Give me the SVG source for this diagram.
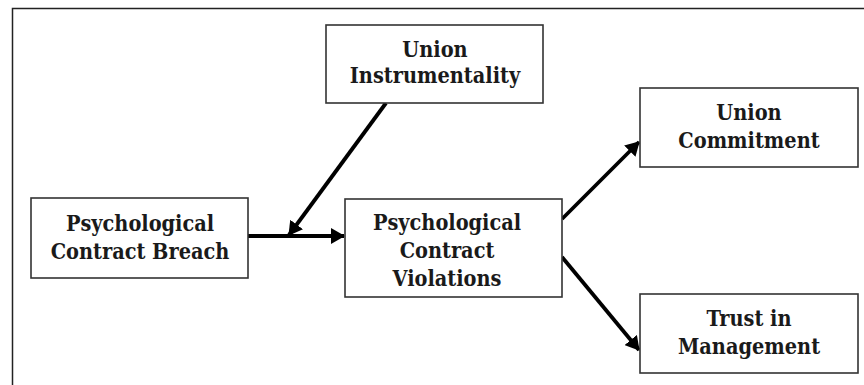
<svg xmlns="http://www.w3.org/2000/svg" width="864" height="385" viewBox="0 0 864 385">
<style>
.box{fill:#fff;stroke:#333;stroke-width:1.6}
.t{font-family:"DejaVu Serif Condensed","DejaVu Serif",serif;font-stretch:condensed;font-weight:bold;font-size:21.5px;fill:#1a1a1a;text-anchor:middle}
.c{stroke:#000;stroke-width:3.8;fill:none}
</style>
<defs>
<marker id="ah" markerUnits="userSpaceOnUse" markerWidth="14" markerHeight="16" viewBox="0 0 14 16" refX="13" refY="8" orient="auto">
<path d="M0,0 L14,8 L0,16 Z" fill="#000"/>
</marker>
</defs>
<rect width="864" height="385" fill="#fff"/>
<path d="M12.5,385 V8.5 H864" fill="none" stroke="#222" stroke-width="1.5"/>
<g id="connectors">
<line class="c" x1="248" y1="236" x2="344" y2="236" marker-end="url(#ah)"/>
<line class="c" x1="386" y1="103" x2="289" y2="235" marker-end="url(#ah)"/>
<line class="c" x1="562" y1="219" x2="639" y2="142" marker-end="url(#ah)"/>
<line class="c" x1="562" y1="257" x2="639" y2="350" marker-end="url(#ah)"/>
</g>
<g id="union-instrumentality">
<rect class="box" x="326" y="25" width="217" height="78"/>
<text class="t" x="435" y="56.5">Union</text>
<text class="t" x="435" y="83">Instrumentality</text>
</g>
<g id="pc-breach">
<rect class="box" x="31" y="198" width="217" height="80"/>
<text class="t" x="140" y="231">Psychological</text>
<text class="t" x="140" y="258.5">Contract Breach</text>
</g>
<g id="pc-violations">
<rect class="box" x="345" y="199" width="217" height="98"/>
<text class="t" x="447" y="230">Psychological</text>
<text class="t" x="447" y="258">Contract</text>
<text class="t" x="447" y="286">Violations</text>
</g>
<g id="union-commitment">
<rect class="box" x="640" y="88" width="218" height="79"/>
<text class="t" x="749" y="120">Union</text>
<text class="t" x="749" y="148">Commitment</text>
</g>
<g id="trust-management">
<rect class="box" x="640" y="294" width="218" height="79"/>
<text class="t" x="749" y="325.5">Trust in</text>
<text class="t" x="749" y="354">Management</text>
</g>
</svg>
